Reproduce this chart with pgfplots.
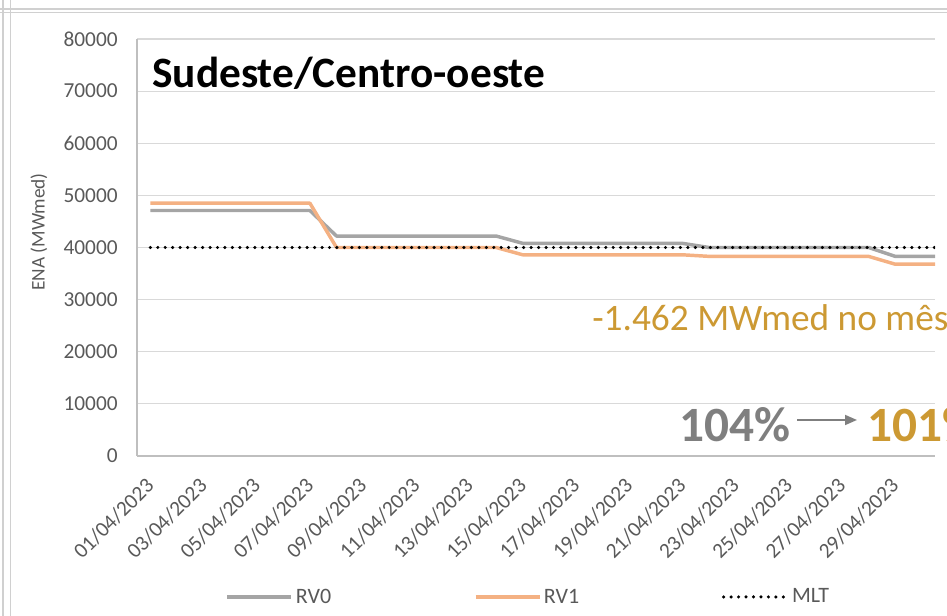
\documentclass[border=0pt]{standalone}
\usepackage{fontspec}
\setmainfont{Carlito}
\usepackage{pgfplots}
\usepackage{pgfplotstable}
\pgfplotsset{compat=1.18}
\usetikzlibrary{arrows.meta}
\definecolor{rvzero}{HTML}{A5A5A5}
\definecolor{rvone}{HTML}{F4B183}
\definecolor{goldtxt}{RGB}{204,153,51}
\definecolor{txtgray}{HTML}{595959}
\definecolor{bigray}{HTML}{7F7F7F}
\definecolor{gridgray}{HTML}{D9D9D9}
\definecolor{axgray}{HTML}{BFBFBF}
\definecolor{framegray}{HTML}{D0D0D0}

\pgfplotstableread{
day rv0 rv1 mlt
1 47100 48500 40000
2 47100 48500 40000
3 47100 48500 40000
4 47100 48500 40000
5 47100 48500 40000
6 47100 48500 40000
7 47100 48500 40000
8 42200 40000 40000
9 42200 40000 40000
10 42200 40000 40000
11 42200 40000 40000
12 42200 40000 40000
13 42200 40000 40000
14 42200 40000 40000
15 40800 38600 40000
16 40800 38600 40000
17 40800 38600 40000
18 40800 38600 40000
19 40800 38600 40000
20 40800 38600 40000
21 40800 38600 40000
22 40000 38300 40000
23 40000 38300 40000
24 40000 38300 40000
25 40000 38300 40000
26 40000 38300 40000
27 40000 38300 40000
28 40000 38300 40000
29 38300 36800 40000
30 38300 36800 40000
31 38300 36800 40000
}\datatable

\begin{document}
\begin{tikzpicture}
\path[use as bounding box] (0,0) rectangle (710.25pt,462pt);
\begin{axis}[
  at={(102.75pt,120pt)}, anchor=south west,
  scale only axis, width=598.5pt, height=312.75pt,
  xmin=0.5, xmax=30.5, ymin=0, ymax=80000,
  xtick={1,3,...,29},
  xticklabels={01/04/2023,03/04/2023,05/04/2023,07/04/2023,09/04/2023,11/04/2023,13/04/2023,15/04/2023,17/04/2023,19/04/2023,21/04/2023,23/04/2023,25/04/2023,27/04/2023,29/04/2023},
  ytick={0,10000,...,80000},
  scaled y ticks=false,
  /pgf/number format/.cd, 1000 sep={}, assume math mode=true, /pgfplots/.cd,
  ymajorgrids, grid style={color=gridgray, line width=0.9pt},
  axis x line*=bottom, axis y line*=left,
  axis line style={color=axgray, line width=1.1pt, -},
  major tick length=0pt,
  tick label style={font=\fontsize{16}{19}\selectfont, text=txtgray},
  yticklabel style={xshift=-11pt},
  xticklabel style={xshift=-4.3pt, yshift=-10.5pt, rotate=45, anchor=north east},
  legend columns=3,
  legend style={at={(axis description cs:0.491,-0.338)}, anchor=center, draw=none, fill=none,
    font=\fontsize{16.5}{19}\selectfont, text=txtgray,
    /tikz/every even column/.append style={column sep=105pt}},
  legend image code/.code={\draw[#1] (0pt,0pt) -- (48pt,0pt);},
  clip=true,
]
\addplot[color=rvzero, line width=2.6pt, line join=round] table[x=day, y=rv0] {\datatable};
\addlegendentry{RV0}
\addplot[color=rvone, line width=2.6pt, line join=round] table[x=day, y=rv1] {\datatable};
\addlegendentry{RV1}
\addplot[color=black, line width=2.6pt, line cap=round, dash pattern=on 0pt off 5.6pt] table[x=day, y=mlt] {\datatable};
\addlegendentry{MLT}
\end{axis}
\begin{scope}[x=0.75pt,y=-0.75pt,shift={(0pt,462pt)}]
  \draw[framegray, line width=1.1pt] (0,9) -- (947,9);
  \draw[framegray, line width=1.1pt] (0,12.5) -- (947,12.5);
  \draw[framegray, line width=1.1pt] (3,0) -- (3,616);
  \draw[framegray, line width=1.1pt] (10.5,0) -- (10.5,616);
  \node[rotate=90, inner sep=0pt, text=txtgray] at (39,232) {\fontsize{14.5}{17}\selectfont ENA (MWmed)};
  \node[anchor=base west, inner sep=0pt, font=\bfseries\fontsize{32.5}{38}\selectfont] at (152,88) {Sudeste/Centro-oeste};
  \node[anchor=base west, inner sep=0pt, text=goldtxt, font=\fontsize{28}{33}\selectfont] at (592,331) {-1.462 MWmed no mês};
  \node[anchor=base west, inner sep=0pt, text=bigray, font=\bfseries\fontsize{37}{44}\selectfont] at (679,442) {104\%};
  \draw[bigray, line width=1.3pt, -{Triangle[length=9pt,width=7.5pt]}] (797,420) -- (857,420);
  \node[anchor=base west, inner sep=0pt, text=goldtxt, font=\bfseries\fontsize{37}{44}\selectfont] at (867,442) {101\%};
\end{scope}
\end{tikzpicture}
\end{document}
